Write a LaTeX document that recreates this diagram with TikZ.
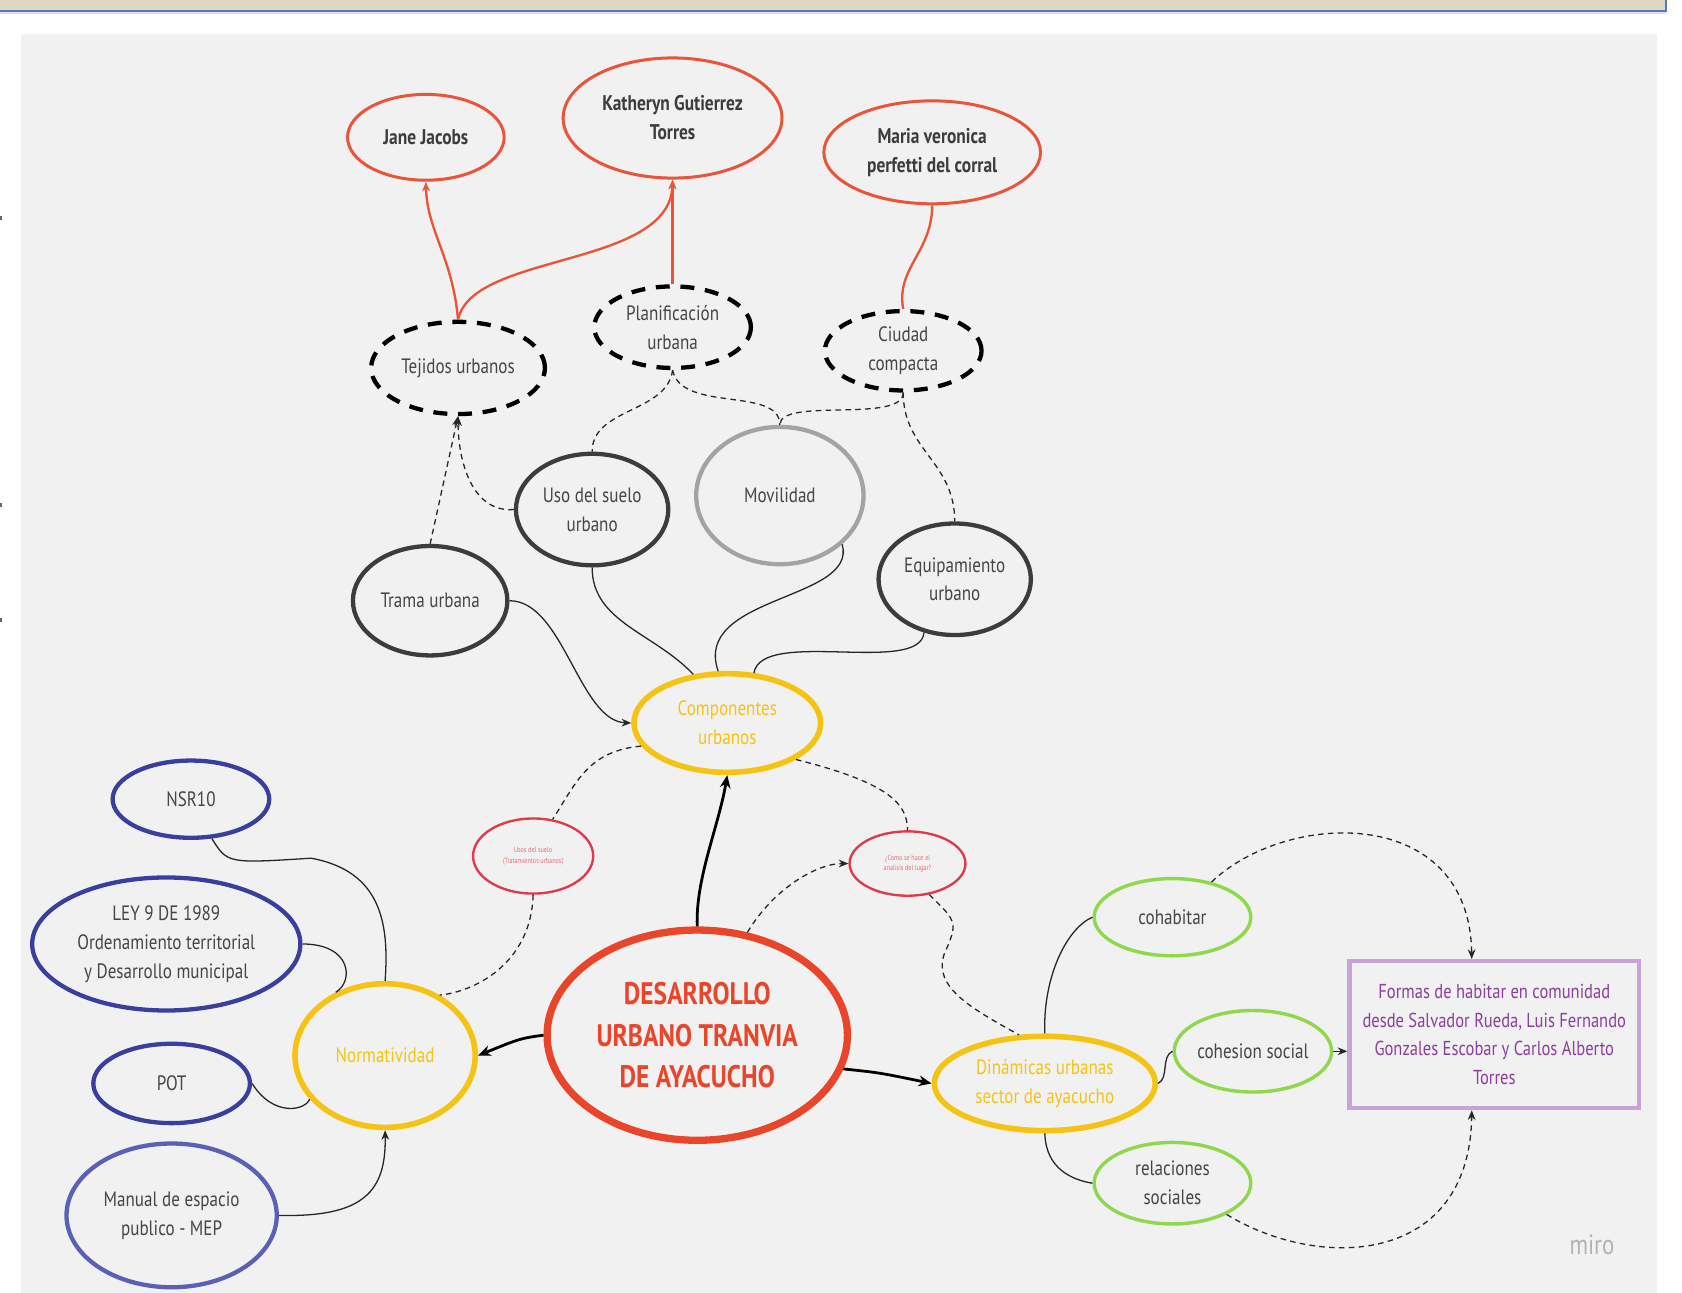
\documentclass[tikz,border=0pt]{standalone}
\usepackage{fontspec}
\setmainfont[FakeStretch=0.82]{PT Sans}
\usetikzlibrary{shapes.geometric,arrows.meta}
\definecolor{authred}{HTML}{E8553A}
\definecolor{mainred}{HTML}{E8452A}
\definecolor{smallred}{HTML}{DF3A4A}
\definecolor{pinktext}{HTML}{E86A78}
\definecolor{darkgray}{HTML}{3C3C3C}
\definecolor{lightgray}{HTML}{A3A3A3}
\definecolor{labelgray}{HTML}{454545}
\definecolor{yell}{HTML}{F5C313}
\definecolor{normblue}{HTML}{3A3E9E}
\definecolor{manblue}{HTML}{5B60B6}
\definecolor{grn}{HTML}{8FD84E}
\definecolor{violetb}{HTML}{C9A2DA}
\definecolor{purpletext}{HTML}{8B3F9C}
\definecolor{canvas}{HTML}{F1F1F1}
\definecolor{barfill}{HTML}{DED8C2}
\definecolor{barblue}{HTML}{4A7EC0}
\tikzset{
  ov/.style 2 args={ellipse,inner sep=0pt,minimum width=#1*0.5pt,minimum height=#2*0.5pt,align=center},
  auth/.style={draw=authred,line width=1.4pt,text=darkgray,font=\fontsize{9.9}{13.5}\selectfont\bfseries},
  dashov/.style={draw=black,line width=2pt,dash pattern=on 6.5pt off 5pt,text=labelgray,font=\fontsize{9.7}{13.5}\selectfont},
  grayov/.style={draw=darkgray,line width=2pt,text=labelgray,font=\fontsize{9.7}{13.5}\selectfont},
  yellov/.style={draw=yell,line width=2.6pt,text=yell,font=\fontsize{9.7}{13.5}\selectfont},
  smallov/.style={draw=smallred,line width=1.1pt,text=pinktext,font=\fontsize{3.5}{5}\selectfont},
  blueov/.style={draw=normblue,line width=2pt,text=labelgray,font=\fontsize{9.7}{13.5}\selectfont},
  greenov/.style={draw=grn,line width=1.6pt,text=labelgray,font=\fontsize{9.7}{13.5}\selectfont},
  conn/.style={draw=black!85,line width=0.6pt},
  dconn/.style={conn,dash pattern=on 2.6pt off 2pt},
  redc/.style={draw=authred,line width=1.1pt},
  thickc/.style={draw=black,line width=1.3pt},
  tip/.style={-{Stealth[length=4.5pt,width=3.6pt]}},
  bigtip/.style={-{Stealth[length=6pt,width=5pt]}}
}
\begin{document}
\begin{tikzpicture}[x=0.5pt,y=-0.5pt]
\useasboundingbox (0,0) rectangle (1568,1205);
\fill[white] (0,0) rectangle (1568,1205);
% top bar
\fill[barfill] (0,0) rectangle (1553,10);
\draw[barblue,line width=0.8pt] (0,10) -- (1553,10) -- (1553,0);
\fill[black!12] (0,11) rectangle (1553,13);
% canvas
\fill[canvas] (20,32) rectangle (1545,1205);
% edge dots
\fill[black!60] (0,201) rectangle (2,205);
\fill[black!60] (0,469) rectangle (2,473);
\fill[black!60] (0,576) rectangle (2,580);

% authors
\node[ov={146}{80},auth] (jane) at (397,128) {Jane Jacobs};
\node[ov={204}{112},auth] (kath) at (627,110) {Katheryn Gutierrez\\Torres};
\node[ov={202}{96},auth] (maria) at (869,142) {Maria veronica\\perfetti del corral};
% dashed concepts
\node[ov={162}{86},dashov] (tej) at (427,343) {Tejidos urbanos};
\node[ov={146}{76},dashov] (plan) at (627,305) {Planificación\\urbana};
\node[ov={146}{74},dashov] (ciu) at (842,327) {Ciudad\\compacta};
% components
\node[ov={142}{104},grayov] (uso) at (552,475) {Uso del suelo\\urbano};
\node[ov={156}{128},grayov,draw=lightgray] (mov) at (727,462) {Movilidad};
\node[ov={144}{102},grayov] (trama) at (401,560) {Trama urbana};
\node[ov={142}{104},grayov] (equip) at (890,540) {Equipamiento\\urbano};
\node[ov={174}{92},yellov] (comp) at (678,674) {Componentes\\urbanos};
% small red
\node[ov={112}{70},smallov] (usos) at (497,798) {Usos del suelo\\(Tratamientos urbanos)};
\node[ov={108}{60},smallov] (como) at (846,805) {¿Como se hace el\\analisis del lugar?};
% main
\node[ov={280}{196},draw=mainred,line width=3.4pt,text=mainred,font=\fontsize{14.5}{19.5}\selectfont\bfseries] (des) at (650,965) {DESARROLLO\\URBANO TRANVIA\\DE AYACUCHO};
% normatividad
\node[ov={146}{72},blueov] (nsr) at (178,745) {NSR10};
\node[ov={250}{124},blueov] (ley) at (155,880) {LEY 9 DE 1989\\Ordenamiento territorial\\y Desarrollo municipal};
\node[ov={146}{74},blueov] (pot) at (160,1010) {POT};
\node[ov={196}{134},blueov,draw=manblue] (man) at (160,1133) {Manual de espacio\\publico - MEP};
\node[ov={168}{134},yellov] (norm) at (359,984) {Normatividad};
% dinamicas
\node[ov={206}{88},yellov] (din) at (974,1010) {Dinámicas urbanas\\sector de ayacucho};
\node[ov={146}{72},greenov] (coh) at (1093,855) {cohabitar};
\node[ov={146}{76},greenov] (ces) at (1168,980) {cohesion social};
\node[ov={146}{76},greenov] (rel) at (1093,1103) {relaciones\\sociales};
\node[draw=violetb,line width=2pt,minimum width=135pt,minimum height=68.5pt,inner sep=0pt,align=center,text=purpletext,font=\fontsize{9.4}{13.3}\selectfont] (formas) at (1393,964.5) {Formas de habitar en comunidad\\desde Salvador Rueda, Luis Fernando\\Gonzales Escobar y Carlos Alberto\\Torres};
% miro
\node[text=black!30,font=\fontsize{13}{13}\selectfont] (miro) at (1484,1160) {miro};

% red connectors
\draw[redc,tip] (tej.north) .. controls (422,240) and (398,215) .. (jane.south);
\draw[redc,tip] (tej.north) .. controls (440,235) and (625,250) .. (kath.south);
\draw[redc,tip] (plan.north) -- (kath.south);
\draw[redc] (ciu.north) .. controls (835,250) and (869,235) .. (maria.south);
% dashed top
\draw[dconn] (plan.south) .. controls (622,385) and (552,380) .. (uso.north);
\draw[dconn] (plan.south) .. controls (635,385) and (727,360) .. (mov.north);
\draw[dconn] (ciu.south) .. controls (842,395) and (727,370) .. (mov.north);
\draw[dconn] (ciu.south) .. controls (842,420) and (890,430) .. (equip.north);
\draw[dconn,tip] (uso.west) .. controls (440,478) and (427,430) .. (tej.south);
\draw[dconn,tip] (trama.north) -- (tej.south);
% solid to componentes
\draw[conn,tip] (trama.east) .. controls (525,560) and (540,672) .. (comp.west);
\draw[conn] (uso.south) .. controls (552,580) and (610,590) .. (comp.125);
\draw[conn] (mov.-38) .. controls (800,560) and (645,555) .. (comp.100);
\draw[conn] (equip.-120) .. controls (858,630) and (710,585) .. (comp.62);
% dashed around componentes
\draw[dconn] (comp.195) .. controls (548,700) and (537,730) .. (usos.62);
\draw[dconn] (usos.south) .. controls (495,900) and (440,925) .. (norm.48);
\draw[dconn] (comp.-28) .. controls (830,730) and (846,750) .. (como.north);
% main arrows
\draw[thickc,bigtip] (des.north) .. controls (648,820) and (670,770) .. (comp.south);
\draw[dconn,tip] (des.64) .. controls (720,830) and (760,805) .. (como.west);
\draw[dconn] (como.-55) .. controls (893,860) .. (880,890) .. controls (870,920) and (905,940) .. (din.118);
\draw[thickc,bigtip] (des.west) .. controls (485,968) .. (norm.east);
\draw[thickc,bigtip] (des.-13) .. controls (820,1000) .. (din.west);
% normatividad links
\draw[conn] (nsr.-62) .. controls (212,805) .. (290,800) .. controls (355,812) and (363,860) .. (norm.north);
\draw[conn] (ley.east) .. controls (328,880) and (330,915) .. (norm.128);
\draw[conn] (pot.east) .. controls (255,1042) and (285,1035) .. (norm.210);
\draw[conn,tip] (man.east) .. controls (340,1135) and (360,1110) .. (norm.south);
% dinamicas links
\draw[conn] (din.north) .. controls (972,910) and (995,865) .. (coh.west);
\draw[conn] (din.east) .. controls (1090,1005) and (1082,985) .. (ces.west);
\draw[conn] (din.south) .. controls (975,1090) and (1000,1100) .. (rel.west);
\draw[conn,tip] (ces.east) -- (ces.east -| formas.west);
\draw[dconn,tip] (coh.42) .. controls (1200,755) and (1370,750) .. ([xshift=-10.5pt]formas.north);
\draw[dconn,tip] (rel.-30) .. controls (1230,1185) and (1370,1180) .. ([xshift=-10.5pt]formas.south);
\end{tikzpicture}
\end{document}
